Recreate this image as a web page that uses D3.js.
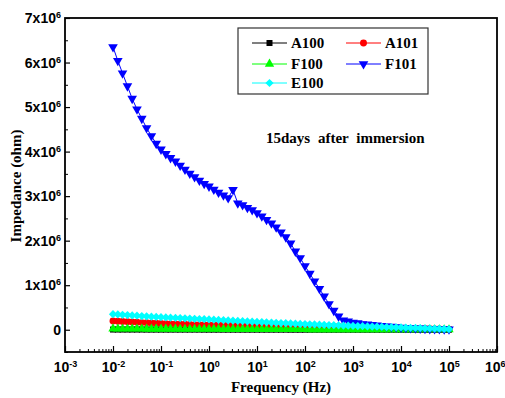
<!DOCTYPE html>
<html>
<head>
<meta charset="utf-8">
<script src="https://cdn.jsdelivr.net/npm/d3@7"></script>
<style>
  html, body { margin: 0; padding: 0; background: #fff; }
  svg { display: block; }
</style>
</head>
<body>
<div id="chart"></div>
<script>
// sweep frequencies (Hz), 10 points per decade
const freq = [
  0.01, 0.0126, 0.0158, 0.02, 0.0251, 0.0316, 0.0398, 0.0501, 0.0631, 0.0794,
  0.1, 0.126, 0.158, 0.2, 0.251, 0.316, 0.398, 0.501, 0.631, 0.794,
  1, 1.26, 1.58, 2, 2.51, 3.16, 3.98, 5.01, 6.31, 7.94,
  10, 12.6, 15.8, 20, 25.1, 31.6, 39.8, 50.1, 63.1, 79.4,
  100, 126, 158, 200, 251, 316, 398, 501, 631, 794,
  1000, 1260, 1580, 2000, 2510, 3160, 3980, 5010, 6310, 7940,
  10000, 12600, 15800, 20000, 25100, 31600, 39800, 50100, 63100, 79400,
  100000
];

// impedance in units of 10^6 ohm
const a100 = [
  0.004, 0.004, 0.004, 0.004, 0.004, 0.004, 0.004, 0.003, 0.003, 0.003,
  0.003, 0.003, 0.003, 0.003, 0.003, 0.003, 0.003, 0.003, 0.003, 0.002,
  0.002, 0.002, 0.002, 0.002, 0.002, 0.002, 0.002, 0.002, 0.002, 0.002,
  0.002, 0.002, 0.002, 0.002, 0.002, 0.002, 0.002, 0.001, 0.001, 0.001,
  0.001, 0.001, 0.001, 0.001, 0.001, 0.001, 0.001, 0.001, 0.001, 0.001,
  0.001, 0.001, 0.001, 0.001, 0.001, 0.001, 0.001, 0.001, 0.001, 0.001,
  0.001, 0.001, 0.001, 0.001, 0.001, 0.001, 0.001, 0.001, 0.001, 0.001,
  0.001
];
const a101 = [
  0.195, 0.19, 0.184, 0.178, 0.172, 0.166, 0.16, 0.155, 0.15, 0.145,
  0.14, 0.136, 0.132, 0.128, 0.124, 0.121, 0.118, 0.115, 0.112, 0.11,
  0.108, 0.106, 0.104, 0.102, 0.1, 0.099, 0.098, 0.096, 0.095, 0.094,
  0.093, 0.092, 0.091, 0.09, 0.089, 0.088, 0.087, 0.086, 0.085, 0.084,
  0.083, 0.082, 0.08, 0.079, 0.077, 0.075, 0.073, 0.071, 0.069, 0.067,
  0.064, 0.061, 0.058, 0.055, 0.052, 0.049, 0.046, 0.043, 0.04, 0.037,
  0.034, 0.031, 0.028, 0.026, 0.024, 0.022, 0.02, 0.018, 0.016, 0.014,
  0.012
];
const f100 = [
  0.022, 0.021, 0.021, 0.020, 0.020, 0.019, 0.019, 0.018, 0.018, 0.017,
  0.017, 0.016, 0.016, 0.016, 0.015, 0.015, 0.015, 0.014, 0.014, 0.014,
  0.013, 0.013, 0.013, 0.012, 0.012, 0.012, 0.011, 0.011, 0.011, 0.010,
  0.010, 0.010, 0.010, 0.009, 0.009, 0.009, 0.009, 0.008, 0.008, 0.008,
  0.008, 0.007, 0.007, 0.007, 0.007, 0.006, 0.006, 0.006, 0.006, 0.006,
  0.005, 0.005, 0.005, 0.005, 0.005, 0.004, 0.004, 0.004, 0.004, 0.004,
  0.004, 0.003, 0.003, 0.003, 0.003, 0.003, 0.003, 0.002, 0.002, 0.002,
  0.002
];
const f101 = [
  6.35, 6.04, 5.76, 5.47, 5.19, 4.95, 4.74, 4.53, 4.35, 4.18,
  4.05, 3.95, 3.86, 3.78, 3.69, 3.60, 3.51, 3.43, 3.35, 3.28,
  3.22, 3.15, 3.08, 3.02, 2.96, 3.14, 2.84, 2.80, 2.74, 2.69,
  2.62, 2.55, 2.47, 2.39, 2.30, 2.19, 2.08, 1.94, 1.76, 1.61,
  1.43, 1.26, 1.09, 0.92, 0.75, 0.58, 0.43, 0.30, 0.21, 0.19,
  0.16, 0.15, 0.13, 0.12, 0.11, 0.10, 0.09, 0.08, 0.07, 0.06,
  0.05, 0.045, 0.04, 0.035, 0.03, 0.025, 0.02, 0.018, 0.015, 0.012,
  0.01
];
const e100 = [
  0.350, 0.343, 0.336, 0.329, 0.322, 0.315, 0.308, 0.301, 0.294, 0.287,
  0.281, 0.276, 0.271, 0.266, 0.261, 0.256, 0.251, 0.246, 0.241, 0.236,
  0.231, 0.225, 0.220, 0.214, 0.209, 0.203, 0.198, 0.192, 0.187, 0.181,
  0.176, 0.171, 0.166, 0.161, 0.156, 0.151, 0.146, 0.141, 0.136, 0.131,
  0.126, 0.122, 0.118, 0.114, 0.110, 0.106, 0.102, 0.098, 0.094, 0.090,
  0.086, 0.082, 0.079, 0.075, 0.072, 0.068, 0.065, 0.061, 0.058, 0.054,
  0.051, 0.047, 0.044, 0.040, 0.037, 0.033, 0.030, 0.026, 0.023, 0.019,
  0.016
];

const seriesNames = ['A100', 'A101', 'F100', 'F101', 'E100'];
const seriesColors = ['#000000', '#ff0000', '#00ff00', '#0000ff', '#00ffff'];
const xTickExps = [-3, -2, -1, 0, 1, 2, 3, 4, 5, 6];
const yTickVals = [0, 1, 2, 3, 4, 5, 6, 7];
const yMinorVals = [-0.5, 0.5, 1.5, 2.5, 3.5, 4.5, 5.5, 6.5];

const W = 505, H = 398;
const margin = { top: 18, right: 8, bottom: 46, left: 65 };
const width = W - margin.left - margin.right;
const height = H - margin.top - margin.bottom;

const svg = d3.select('#chart')
  .append('svg')
  .attr('width', W)
  .attr('height', H);

const g = svg.append('g')
  .attr('transform', `translate(${margin.left},${margin.top})`);

const x = d3.scaleLog().domain([1e-3, 1e6]).range([0, width]);
const y = d3.scaleLinear().domain([-0.5, 7]).range([height, 0]);

const tickFont = '"Liberation Sans", Arial, sans-serif';
const titleFont = '"Liberation Serif", "Times New Roman", serif';

// minor x ticks (2..9 per decade)
const xMinor = [];
xTickExps.slice(0, -1).forEach(e => {
  for (let m = 2; m <= 9; m++) xMinor.push(m * Math.pow(10, e));
});

g.append('g')
  .attr('transform', `translate(0,${height})`)
  .call(d3.axisBottom(x).tickValues(xMinor).tickSizeInner(-3).tickSizeOuter(0).tickFormat(''))
  .call(a => a.select('.domain').remove())
  .selectAll('line').attr('stroke', '#000').attr('stroke-width', 1);

const xAxis = g.append('g')
  .attr('transform', `translate(0,${height})`)
  .call(d3.axisBottom(x)
    .tickValues(xTickExps.map(e => Math.pow(10, e)))
    .tickSizeInner(-6).tickSizeOuter(0).tickPadding(10)
    .tickFormat(''));
xAxis.select('.domain').remove();
xAxis.selectAll('line').attr('stroke', '#000').attr('stroke-width', 1.2);
xAxis.selectAll('.tick text')
  .attr('fill', '#000')
  .style('font-family', tickFont)
  .style('font-weight', 'bold')
  .style('font-size', '14px')
  .each(function(d, i, nodes) {
    const t = d3.select(this);
    const e = Math.round(Math.log10(d));
    // last label sits at the right edge of the page
    if (i === nodes.length - 1) t.attr('text-anchor', 'end').attr('x', 8);
    t.append('tspan').text('10');
    t.append('tspan').attr('dy', '-5').style('font-size', '9px').text(e);
  });

// y axis
g.append('g')
  .call(d3.axisLeft(y).tickValues(yMinorVals).tickSizeInner(-3).tickSizeOuter(0).tickFormat(''))
  .call(a => a.select('.domain').remove())
  .selectAll('line').attr('stroke', '#000').attr('stroke-width', 1);

const yAxis = g.append('g')
  .call(d3.axisLeft(y)
    .tickValues(yTickVals)
    .tickSizeInner(-5).tickSizeOuter(0).tickPadding(4)
    .tickFormat(''));
yAxis.select('.domain').remove();
yAxis.selectAll('line').attr('stroke', '#000').attr('stroke-width', 1.2);
yAxis.selectAll('.tick text')
  .attr('fill', '#000')
  .style('font-family', tickFont)
  .style('font-weight', 'bold')
  .style('font-size', '14px')
  .each(function(d) {
    const t = d3.select(this);
    if (d === 0) { t.text('0'); return; }
    t.append('tspan').text(d + 'x10');
    t.append('tspan').attr('dy', '-5').style('font-size', '9px').text('6');
  });

// frame
g.append('rect')
  .attr('width', width)
  .attr('height', height)
  .attr('fill', 'none')
  .attr('stroke', '#000')
  .attr('stroke-width', 1.8);

// series
const seriesData = [a100, a101, f100, f101, e100];
const symbols = [
  { type: d3.symbolSquare, size: 36, rot: 0 },
  { type: d3.symbolCircle, size: 38, rot: 0 },
  { type: d3.symbolTriangle, size: 38, rot: 0 },
  { type: d3.symbolTriangle, size: 40, rot: 180 },
  { type: d3.symbolSquare, size: 34, rot: 45 }
];

const line = d3.line()
  .x(d => x(d[0]))
  .y(d => y(d[1]));

const plot = g.append('g');
seriesData.forEach((vals, i) => {
  const pts = freq.map((f, j) => [f, vals[j]]);
  const sg = plot.append('g').attr('class', 'series-' + seriesNames[i]);
  sg.append('path')
    .datum(pts)
    .attr('d', line)
    .attr('fill', 'none')
    .attr('stroke', seriesColors[i])
    .attr('stroke-width', 1);
  const sym = d3.symbol().type(symbols[i].type).size(symbols[i].size);
  sg.selectAll('path.pt')
    .data(pts)
    .join('path')
    .attr('class', 'pt')
    .attr('d', sym)
    .attr('transform', d => `translate(${x(d[0])},${y(d[1])}) rotate(${symbols[i].rot})`)
    .attr('fill', seriesColors[i]);
});

// legend
const legend = svg.append('g').attr('transform', 'translate(238,28)');
legend.append('rect')
  .attr('width', 190)
  .attr('height', 66)
  .attr('fill', '#fff')
  .attr('stroke', '#333')
  .attr('stroke-width', 1.2);

const legendPos = [[14, 15], [108, 15], [14, 36], [108, 36], [14, 55]];
seriesNames.forEach((name, i) => {
  const [lx, ly] = legendPos[i];
  const item = legend.append('g').attr('transform', `translate(${lx},${ly})`);
  item.append('line')
    .attr('x1', 0).attr('x2', 35)
    .attr('stroke', seriesColors[i])
    .attr('stroke-width', 1);
  item.append('path')
    .attr('d', d3.symbol().type(symbols[i].type).size(symbols[i].size))
    .attr('transform', `translate(17.5,0) rotate(${symbols[i].rot})`)
    .attr('fill', seriesColors[i]);
  item.append('text')
    .attr('x', 39)
    .attr('dy', '0.33em')
    .style('font-family', titleFont)
    .style('font-weight', 'bold')
    .style('font-size', '15px')
    .text(name);
});

// annotation
svg.append('text')
  .attr('x', 266)
  .attr('y', 143)
  .style('font-family', titleFont)
  .style('font-weight', 'bold')
  .style('font-size', '15px')
  .style('word-spacing', '4px')
  .text('15days after immersion');

// axis titles
svg.append('text')
  .attr('x', margin.left + width / 2)
  .attr('y', 392)
  .attr('text-anchor', 'middle')
  .style('font-family', titleFont)
  .style('font-weight', 'bold')
  .style('font-size', '15px')
  .text('Frequency (Hz)');

svg.append('text')
  .attr('transform', 'translate(21,186) rotate(-90)')
  .attr('text-anchor', 'middle')
  .style('font-family', titleFont)
  .style('font-weight', 'bold')
  .style('font-size', '15px')
  .text('Impedance (ohm)');
</script>
</body>
</html>
